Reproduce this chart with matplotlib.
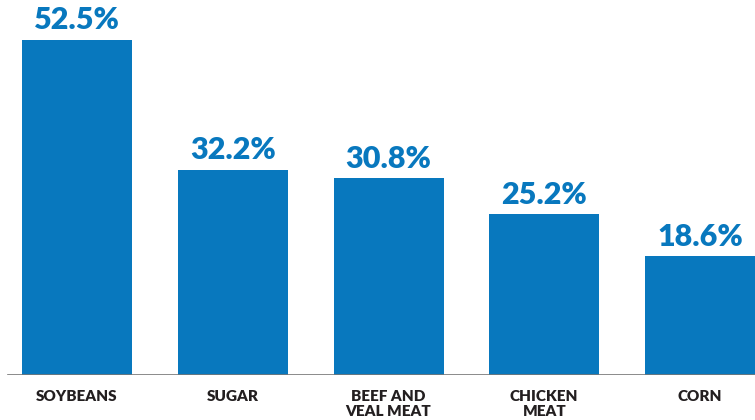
import matplotlib.pyplot as plt

categories = ["SOYBEANS", "SUGAR", "BEEF AND\nVEAL MEAT", "CHICKEN\nMEAT", "CORN"]
values = [52.5, 32.2, 30.8, 25.2, 18.6]
value_labels = ["52.5%", "32.2%", "30.8%", "25.2%", "18.6%"]

BLUE = "#0878be"
DARK = "#231f20"
FONT = ["Lato", "DejaVu Sans"]
STEP = 155.75  # px between bar centres

fig = plt.figure(figsize=(7.55, 4.20), dpi=100)
ax = fig.add_axes([0, 45 / 420, 1, 375 / 420])

x = range(len(categories))
ax.bar(x, values, width=110 / STEP, color=BLUE, zorder=2)

for i, (v, lab) in enumerate(zip(values, value_labels)):
    ax.annotate(lab, (i, v), xytext=(0, 4), textcoords="offset points",
                ha="center", va="bottom", color=BLUE, fontsize=22,
                fontfamily=FONT, fontweight="heavy")

ax.set_xlim(-77 / STEP, 678 / STEP)
ax.set_ylim(0, 375 / (335 / 52.5))

# baseline starts a little in from the left edge
ax.axhline(0, xmin=8 / 755, xmax=1, color="#777777", lw=1.2, zorder=3)

for i, c in enumerate(categories):
    ax.annotate(c, (i, 0), xytext=(0, -11), textcoords="offset points",
                ha="center", va="top", color=DARK, fontsize=11,
                fontfamily=FONT, fontweight="heavy",
                linespacing=1.2, annotation_clip=False)

ax.set_xticks([])
ax.set_yticks([])
for s in ax.spines.values():
    s.set_visible(False)

fig.savefig("out.png", dpi=100)
